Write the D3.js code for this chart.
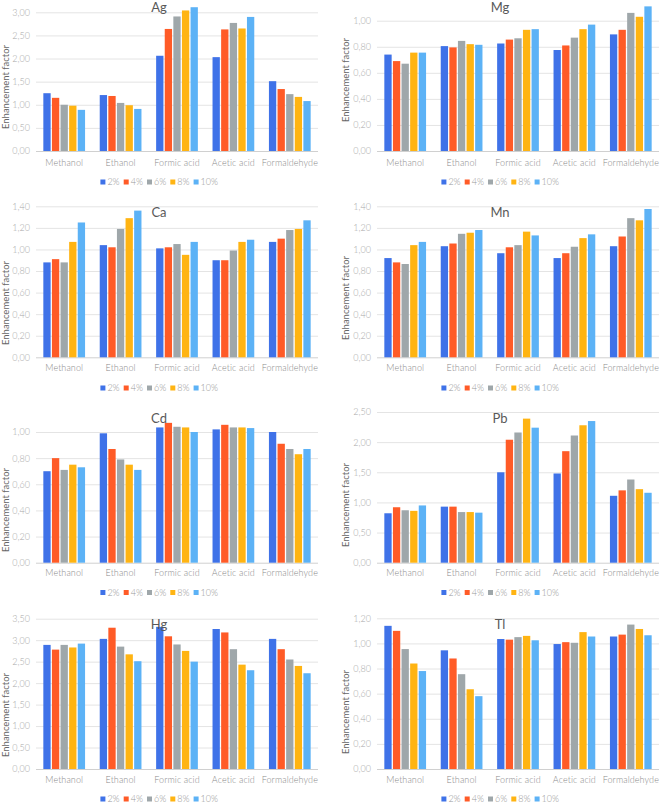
<!DOCTYPE html>
<html><head><meta charset="utf-8">
<script src="https://cdn.jsdelivr.net/npm/d3@7"></script>
<style>body{margin:0;background:#fff} svg{display:block}</style>
</head><body><svg id="c" width="661" height="804"></svg>
<script>
// ---------- DATA ----------
const categories = ["Methanol", "Ethanol", "Formic acid", "Acetic acid", "Formaldehyde"];
const series = ["2%", "4%", "6%", "8%", "10%"];
const elements = ["Ag", "Mg", "Ca", "Mn", "Cd", "Pb", "Hg", "Tl"];
const yAxisTitle = "Enhancement factor";

// values per category (rows) x series (columns)
const agValues = [
  [1.25, 1.15, 1.00, 0.98, 0.89],
  [1.21, 1.19, 1.04, 0.99, 0.91],
  [2.06, 2.64, 2.91, 3.04, 3.11],
  [2.03, 2.63, 2.77, 2.65, 2.90],
  [1.51, 1.34, 1.23, 1.17, 1.08]
];
const mgValues = [
  [0.74, 0.69, 0.67, 0.755, 0.755],
  [0.805, 0.795, 0.845, 0.82, 0.815],
  [0.825, 0.855, 0.865, 0.93, 0.935],
  [0.775, 0.81, 0.87, 0.935, 0.97],
  [0.895, 0.93, 1.06, 1.03, 1.11]
];
const caValues = [
  [0.88, 0.91, 0.88, 1.07, 1.25],
  [1.04, 1.02, 1.19, 1.29, 1.36],
  [1.01, 1.02, 1.05, 0.95, 1.07],
  [0.90, 0.90, 0.99, 1.07, 1.09],
  [1.07, 1.10, 1.18, 1.19, 1.27]
];
const mnValues = [
  [0.92, 0.88, 0.865, 1.04, 1.07],
  [1.03, 1.055, 1.145, 1.155, 1.18],
  [0.965, 1.02, 1.04, 1.165, 1.13],
  [0.92, 0.965, 1.025, 1.105, 1.14],
  [1.03, 1.12, 1.29, 1.27, 1.375]
];
const cdValues = [
  [0.70, 0.80, 0.71, 0.75, 0.73],
  [0.99, 0.87, 0.79, 0.75, 0.71],
  [1.035, 1.07, 1.04, 1.035, 1.00],
  [1.02, 1.055, 1.035, 1.035, 1.03],
  [1.00, 0.91, 0.87, 0.83, 0.87]
];
const pbValues = [
  [0.82, 0.92, 0.87, 0.86, 0.95],
  [0.93, 0.93, 0.84, 0.84, 0.83],
  [1.50, 2.04, 2.16, 2.39, 2.24],
  [1.48, 1.85, 2.11, 2.28, 2.35],
  [1.11, 1.20, 1.38, 1.22, 1.16]
];
const hgValues = [
  [2.89, 2.78, 2.89, 2.83, 2.92],
  [3.03, 3.29, 2.85, 2.67, 2.51],
  [3.31, 3.09, 2.90, 2.75, 2.50],
  [3.26, 3.18, 2.79, 2.43, 2.30],
  [3.03, 2.79, 2.55, 2.40, 2.23]
];
const tlValues = [
  [1.14, 1.10, 0.955, 0.84, 0.78],
  [0.945, 0.88, 0.755, 0.635, 0.58],
  [1.035, 1.03, 1.05, 1.06, 1.025],
  [0.995, 1.01, 1.005, 1.09, 1.055],
  [1.055, 1.07, 1.15, 1.115, 1.065]
];
const panelValues = [agValues, mgValues, caValues, mnValues, cdValues, pbValues, hgValues, tlValues];

// y axis top tick and step (tick labels)
const yTopTicks = [3.0, 1.0, 1.4, 1.4, 1.0, 2.5, 3.5, 1.2];
const yTickSteps = [0.5, 0.2, 0.2, 0.2, 0.2, 0.5, 0.5, 0.2];

// ---------- LAYOUT / STYLE ----------
const colors = ["#3f72e8", "#ff5b27", "#9fa7aa", "#ffb412", "#5cb2f6"];
const colX = [[36, 318], [377, 659]];
const colCenter = [159, 500];
const rowBottom = [151, 357.3, 562.7, 769];
const plotTopPx = [12.3, 20.7, 206.3, 206.3, 432, 412, 618.7, 618.3];
const titleBase = [11.5, 216.5, 422.5, 628.5];
const catLabelY = [166.5, 371.5, 577, 784];
const legendY = [182, 388, 592.5, 799];
const yTitleX = [8.5, 348.5];
const yTitleCenter = [87, 80, 303, 298, 510, 505, 715, 712];
const FONT = "Lato, 'Open Sans', sans-serif";

const svg = d3.select("#c");
const fmt = v => d3.format(".2f")(v).replace(".", ",");

elements.forEach((el, i) => {
  const col = i % 2, row = Math.floor(i / 2);
  const [x0r, x1r] = colX[col];
  const vals = panelValues[i];
  const g = svg.append("g");

  const y = d3.scaleLinear().domain([0, yTopTicks[i]]).range([rowBottom[row], plotTopPx[i]]);
  const x0 = d3.scaleBand().domain(categories).range([x0r, x1r]).paddingInner(0.26).paddingOuter(0.13);
  const x1 = d3.scaleBand().domain(series).range([0, x0.bandwidth()]).paddingInner(0.15);

  const ticks = d3.range(0, yTopTicks[i] + 1e-9, yTickSteps[i]);
  const yAxis = d3.axisLeft(y).tickValues(ticks).tickFormat(fmt).tickSize(-(x1r - x0r)).tickPadding(6);
  const ga = g.append("g").attr("transform", `translate(${x0r},0)`).call(yAxis);
  ga.select(".domain").remove();
  ga.selectAll(".tick line").attr("stroke", d => d === 0 ? "#d0d0d0" : "#e4e4e4").attr("stroke-width", 1);
  ga.selectAll(".tick text").attr("fill", "#a9a9a9").style("font-family", FONT).style("font-size", "9px").style("font-weight", 300);

  // bars
  categories.forEach((c, ci) => {
    g.append("g").attr("transform", `translate(${x0(c)},0)`)
      .selectAll("rect").data(series.map((s, si) => ({ s, si, v: vals[ci][si] })))
      .join("rect")
      .attr("x", d => x1(d.s))
      .attr("width", x1.bandwidth())
      .attr("y", d => y(d.v))
      .attr("height", d => y(0) - y(d.v))
      .attr("fill", d => colors[d.si]);
  });

  // category axis
  const xAxis = d3.axisBottom(x0).tickSize(0).tickPadding(0);
  const gx = g.append("g").attr("transform", `translate(0,${catLabelY[row] - 7})`).call(xAxis);
  gx.select(".domain").remove();
  gx.selectAll(".tick text").attr("fill", "#8a8a8a").attr("dy", "0.71em")
    .style("font-family", FONT).style("font-size", "9px").style("font-weight", 300).style("letter-spacing", "0.1px");

  // title
  g.append("text").attr("x", colCenter[col]).attr("y", titleBase[row])
    .attr("text-anchor", "middle").attr("fill", "#595959")
    .style("font-family", FONT).style("font-size", "13px").text(el);

  // y axis title
  g.append("text").attr("transform", `translate(${yTitleX[col]},${yTitleCenter[i]}) rotate(-90)`)
    .attr("text-anchor", "middle").attr("fill", "#666666")
    .style("font-family", FONT).style("font-size", "9.5px").text(yAxisTitle);

  // legend
  const step = 23.3;
  const totalW = step * 4 + 24;
  const lx = colCenter[col] - totalW / 2;
  const lg = g.append("g").attr("transform", `translate(${lx},${legendY[row]})`);
  series.forEach((s, si) => {
    const it = lg.append("g").attr("transform", `translate(${si * step},0)`);
    it.append("rect").attr("x", 0).attr("y", -2.5).attr("width", 5).attr("height", 5).attr("fill", colors[si]);
    it.append("text").attr("x", 7).attr("y", 3.2).attr("fill", "#999999")
      .style("font-family", FONT).style("font-size", "9px").style("font-weight", 300).text(s);
  });
});
</script>
</body></html>
